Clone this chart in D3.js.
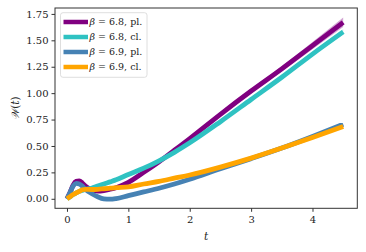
<!DOCTYPE html>
<html><head><meta charset="utf-8">
<script src="https://cdn.jsdelivr.net/npm/d3@7"></script>
<style>body{margin:0;background:#fff}svg{display:block}</style>
</head><body><svg id="c" width="366" height="252"></svg>
<script>
const tVals = [0,0.05,0.1,0.15,0.2,0.25,0.3,0.4,0.5,0.6,0.7,0.8,1.0,1.25,1.5,1.75,2.0,2.5,3.0,3.5,4.0,4.5];
const w68pl = [0,0.06,0.13,0.165,0.17,0.15,0.12,0.085,0.073,0.078,0.09,0.105,0.155,0.25,0.35,0.46,0.57,0.80,1.02,1.23,1.45,1.67];
const w68cl = [0,0.02,0.04,0.055,0.07,0.08,0.088,0.1,0.12,0.14,0.16,0.18,0.23,0.29,0.36,0.44,0.53,0.73,0.94,1.15,1.37,1.58];
const w69pl = [0,0.06,0.12,0.145,0.14,0.12,0.09,0.05,0.02,0.0,-0.004,0.002,0.03,0.065,0.10,0.14,0.185,0.285,0.38,0.48,0.59,0.705];
const w69cl = [0,0.02,0.04,0.055,0.07,0.085,0.09,0.088,0.09,0.095,0.10,0.105,0.112,0.14,0.165,0.195,0.225,0.30,0.385,0.48,0.58,0.685];
const e68pl = [0,0,0,0,0,0,0,0,0,0,0,0,0,0,0.002,0.004,0.006,0.012,0.018,0.026,0.035,0.045];
const e68cl = [0,0,0,0,0,0,0,0,0,0,0,0,0,0,0.001,0.002,0.003,0.006,0.009,0.013,0.018,0.024];
const labels = ["6.8, pl.","6.8, cl.","6.9, pl.","6.9, cl."];
const colors = ["#800080","#2fc2c2","#4682b4","#ffa500"];
const xTicks = [0,1,2,3,4];
const yTicks = [0,0.25,0.5,0.75,1.0,1.25,1.5,1.75];

const FONT = "'DejaVu Serif',serif";
const series = [w68pl,w68cl,w69pl,w69cl];
const errs = [e68pl,e68cl,null,null];
const svg = d3.select("#c");
const x = d3.scaleLinear().domain([-0.195,4.73]).range([55,357.3]);
const y = d3.scaleLinear().domain([-0.09,1.806]).range([208.3,8]);

series.forEach((s,i)=>{
  if(!errs[i]) return;
  const area = d3.area().x((d,j)=>x(tVals[j])).y0((d,j)=>y(s[j]-errs[i][j])).y1((d,j)=>y(s[j]+errs[i][j])).curve(d3.curveMonotoneX);
  svg.append("path").attr("d",area(s)).attr("fill",colors[i]).attr("opacity",0.35);
});
series.forEach((s,i)=>{
  const line = d3.line().x((d,j)=>x(tVals[j])).y(d=>y(d)).curve(d3.curveMonotoneX);
  svg.append("path").attr("d",line(s)).attr("fill","none").attr("stroke",colors[i]).attr("stroke-width",4.8).attr("stroke-linecap","butt");
});

svg.append("rect").attr("x",55).attr("y",8).attr("width",302.3).attr("height",200.3).attr("fill","none").attr("stroke","#333").attr("stroke-width",1);

const xa = svg.append("g").attr("transform","translate(0,208.3)").call(d3.axisBottom(x).tickValues(xTicks).tickSize(3.5).tickFormat(d3.format("d")));
const ya = svg.append("g").attr("transform","translate(55,0)").call(d3.axisLeft(y).tickValues(yTicks).tickSize(3.5).tickFormat(d3.format(".2f")));
[xa,ya].forEach(a=>{a.attr("font-family",null).attr("font-size",null);a.select(".domain").remove();a.selectAll("line").attr("stroke","#333");a.selectAll("text").style("font-family",FONT).style("font-size","10px").attr("fill","#222");});
xa.selectAll("text").attr("dy","0.95em").attr("y",5);
ya.selectAll("text").attr("x",-6.5);

svg.append("text").style("font-family",FONT).style("font-size","10.5px").attr("x",206).attr("y",240).attr("text-anchor","middle").attr("font-style","italic").attr("fill","#222").text("t");
svg.append("text").style("font-family",FONT).style("font-size","10.5px").attr("fill","#222").attr("transform","translate(19,108) rotate(-90)").attr("text-anchor","middle").html('<tspan font-style="italic">𝒲</tspan>(<tspan font-style="italic">t</tspan>)');

const lg = svg.append("g");
lg.append("rect").attr("x",60.5).attr("y",12.7).attr("width",86.5).attr("height",64.6).attr("rx",2.5).attr("fill","#fff").attr("fill-opacity",0.8).attr("stroke","#d6d6d6").attr("stroke-width",0.8);
labels.forEach((l,i)=>{
  const yy = 22 + i*15;
  lg.append("line").attr("x1",63.5).attr("x2",88).attr("y1",yy).attr("y2",yy).attr("stroke",colors[i]).attr("stroke-width",4.5);
  lg.append("text").style("font-family",FONT).style("font-size","9.5px").attr("fill","#222").attr("x",89.5).attr("y",yy+3.4).html('<tspan font-style="italic">β</tspan> = '+l);
});
</script></body></html>
